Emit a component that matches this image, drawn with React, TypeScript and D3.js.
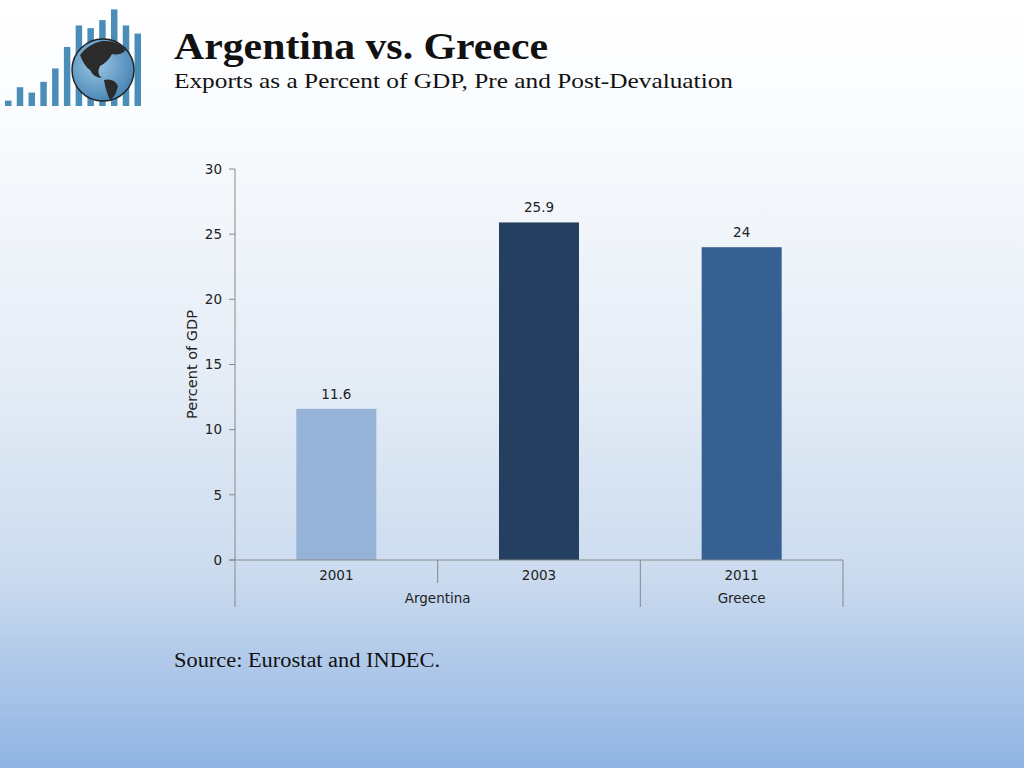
import React from "react";
import * as d3 from "d3";

const groups = ["Argentina", "Argentina", "Greece"];
const years = ["2001", "2003", "2011"];
const values = [11.6, 25.9, 24];
const barColors = ["#95b3d7", "#243f60", "#366092"];
const yTicks = [0, 5, 10, 15, 20, 25, 30];
const logoBars = [2, 7, 5, 9, 14, 22, 30, 29, 32, 36, 30, 27];

export default function App() {
  const W = 1024, H = 768;
  const x0 = 235, x1 = 843, yTop = 169, yBot = 560;
  const x = d3.scaleBand<string>().domain(years).range([x0, x1]).paddingInner(0).paddingOuter(0);
  const y = d3.scaleLinear().domain([0, 30]).range([yBot, yTop]);
  const bw = 80;
  const logoX = d3.scaleBand<number>().domain(logoBars.map((_, i) => i)).range([5, 141]).paddingInner(0.45);
  const logoY = d3.scaleLinear().domain([0, 38]).range([106, 4]);
  const axisFont = "'DejaVu Sans', Verdana, sans-serif";
  const serif = "'Liberation Serif', 'Times New Roman', serif";
  const fs = 13.5;
  const groupSpans = [
    { name: "Argentina", from: 0, to: 1 },
    { name: "Greece", from: 2, to: 2 },
  ];
  return (
    <svg width={W} height={H} style={{ position: "absolute", left: 0, top: 0 }}>
      <defs>
        <linearGradient id="bg" x1="0" y1="0" x2="0" y2="1">
          <stop offset="0" stopColor="#ffffff" />
          <stop offset="0.15" stopColor="#fafcfe" />
          <stop offset="0.5" stopColor="#e4ecf6" />
          <stop offset="0.75" stopColor="#cbdbef" />
          <stop offset="1" stopColor="#8fb3e3" />
        </linearGradient>
        <radialGradient id="globe" cx="0.4" cy="0.4" r="0.7">
          <stop offset="0" stopColor="#9cc6e6" />
          <stop offset="1" stopColor="#3f7fae" />
        </radialGradient>
      </defs>
      <rect x={0} y={0} width={W} height={H} fill="url(#bg)" />
      {/* logo */}
      <g>
        {logoBars.map((v, i) => (
          <rect key={i} x={logoX(i)} y={logoY(v)} width={logoX.bandwidth()} height={106 - logoY(v)} fill="#4a8db8" />
        ))}
        <circle cx={103} cy={70} r={31} fill="url(#globe)" stroke="#222" strokeWidth={1.5} />
        <path d="M80,55 Q88,44 102,41 Q118,40 126,50 Q120,56 112,54 Q108,62 100,66 Q96,74 102,78 Q94,78 90,70 Q84,66 80,55 Z" fill="#2b2b2b" />
        <path d="M104,80 Q114,78 118,86 Q116,96 110,100 Q106,92 104,80 Z" fill="#2b2b2b" />
      </g>
      <text x={174} y={59} fontFamily={serif} fontWeight="bold" fontSize={37} fill="#111" textLength={374} lengthAdjust="spacingAndGlyphs">Argentina vs. Greece</text>
      <text x={174} y={88} fontFamily={serif} fontSize={22} fill="#111" textLength={559} lengthAdjust="spacingAndGlyphs">Exports as a Percent of GDP, Pre and Post-Devaluation</text>

      {/* y axis */}
      <line x1={x0} x2={x0} y1={yTop} y2={yBot} stroke="#888" />
      {yTicks.map((t) => (
        <g key={t}>
          <line x1={x0 - 6} x2={x0} y1={y(t)} y2={y(t)} stroke="#888" />
          <text x={x0 - 13} y={y(t)} dy="0.35em" textAnchor="end" fontFamily={axisFont} fontSize={fs} fill="#222">{t}</text>
        </g>
      ))}
      <text transform={`translate(197,${(yTop + yBot) / 2}) rotate(-90)`} textAnchor="middle" fontFamily={axisFont} fontSize={14.5} fill="#222">Percent of GDP</text>

      {/* bars */}
      {values.map((v, i) => {
        const cx = (x(years[i]) as number) + x.bandwidth() / 2;
        return (
          <g key={i}>
            <rect x={cx - bw / 2} y={y(v)} width={bw} height={yBot - y(v)} fill={barColors[i]} />
            <text x={cx} y={y(v) - 10} textAnchor="middle" fontFamily={axisFont} fontSize={fs} fill="#222">{v}</text>
          </g>
        );
      })}

      {/* x axis */}
      <line x1={x0 - 6} x2={x1} y1={yBot} y2={yBot} stroke="#888" />
      {years.map((yr, i) => {
        const left = x(yr) as number;
        const sameGroupPrev = i > 0 && groups[i - 1] === groups[i];
        return (
          <g key={yr}>
            <line x1={left} x2={left} y1={yBot} y2={sameGroupPrev ? yBot + 23 : yBot + 47} stroke="#888" />
            <text x={left + x.bandwidth() / 2} y={yBot + 20} textAnchor="middle" fontFamily={axisFont} fontSize={fs} fill="#222">{yr}</text>
          </g>
        );
      })}
      <line x1={x1} x2={x1} y1={yBot} y2={yBot + 47} stroke="#888" />
      {groupSpans.map((g) => {
        const a = x(years[g.from]) as number;
        const b = (x(years[g.to]) as number) + x.bandwidth();
        return (
          <text key={g.name} x={(a + b) / 2} y={yBot + 43} textAnchor="middle" fontFamily={axisFont} fontSize={fs} fill="#222">{g.name}</text>
        );
      })}

      <text x={174} y={667} fontFamily={serif} fontSize={20} fill="#111" textLength={266} lengthAdjust="spacingAndGlyphs">Source: Eurostat and INDEC.</text>
    </svg>
  );
}
